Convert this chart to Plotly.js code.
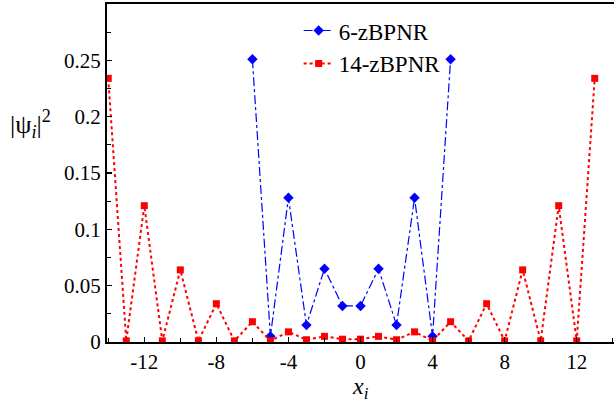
<!DOCTYPE html>
<html>
<head>
<meta charset="utf-8">
<script src="https://cdn.plot.ly/plotly-3.0.1.min.js"></script>
<style>html,body{margin:0;padding:0;background:#fff;}#chart{width:614px;height:402px;}</style>
</head>
<body>
<div id="chart"></div>
<script>
// Data
const x6 = [-6, -5, -4, -3, -2, -1, 0, 1, 2, 3, 4, 5];
const y6 = [0.251, 0.005, 0.128, 0.015, 0.065, 0.032, 0.032, 0.065, 0.015, 0.128, 0.005, 0.251];
const x14 = [-14, -13, -12, -11, -10, -9, -8, -7, -6, -5, -4, -3, -2, -1, 0, 1, 2, 3, 4, 5, 6, 7, 8, 9, 10, 11, 12, 13];
const y14 = [0.234, 0.001, 0.121, 0.001, 0.064, 0.001, 0.034, 0.001, 0.018, 0.001, 0.009, 0.002, 0.005, 0.0025,
             0.0025, 0.005, 0.002, 0.009, 0.001, 0.018, 0.001, 0.034, 0.001, 0.064, 0.001, 0.121, 0.001, 0.234];
const xTickVals = [-12, -8, -4, 0, 4, 8, 12];
const xTickText = ["-12", "-8", "-4", "0", "4", "8", "12"];
const yTickVals = [0, 0.05, 0.1, 0.15, 0.2, 0.25];
const yTickText = ["0", "0.05", "0.1", "0.15", "0.2", "0.25"];
const seriesNames = ["6-zBPNR", "14-zBPNR"];

const font = "Liberation Serif";

const traces = [
  {
    x: x6, y: y6, name: seriesNames[0], type: "scatter", mode: "lines+markers",
    line: {color: "#0000ff", width: 1.2, dash: "dashdot"},
    marker: {symbol: "diamond", size: 8, color: "#0000ff"}
  },
  {
    x: x14, y: y14, name: seriesNames[1], type: "scatter", mode: "lines+markers",
    line: {color: "#ff0000", width: 2, dash: "dot"},
    marker: {symbol: "square", size: 7, color: "#ff0000"}
  }
];

const layout = {
  width: 614, height: 402,
  margin: {l: 107, r: 0, t: 4, b: 60},
  paper_bgcolor: "#fff", plot_bgcolor: "#fff",
  font: {family: font, color: "#000", size: 21},
  showlegend: true,
  legend: {
    x: 0.378, y: 0.985, xanchor: "left", yanchor: "top",
    bgcolor: "rgba(0,0,0,0)", borderwidth: 0,
    font: {family: font, size: 23, color: "#000"},
    tracegroupgap: 0, itemwidth: 30
  },
  xaxis: {
    range: [-14.07, 14.07],
    tickvals: xTickVals, ticktext: xTickText,
    ticks: "inside", ticklen: 5, tickwidth: 1.2, tickcolor: "#000",
    minor: {dtick: 2, tick0: 0, ticks: "inside", ticklen: 4, tickwidth: 1, tickcolor: "#000"},
    showline: true, linecolor: "#000", linewidth: 2, mirror: true,
    showgrid: false, zeroline: false,
    tickfont: {family: font, size: 21, color: "#000"}
  },
  yaxis: {
    range: [0, 0.3],
    tickvals: yTickVals, ticktext: yTickText,
    ticks: "inside", ticklen: 5, tickwidth: 1.2, tickcolor: "#000",
    minor: {dtick: 0.025, tick0: 0, ticks: "inside", ticklen: 4, tickwidth: 1, tickcolor: "#000"},
    showline: true, linecolor: "#000", linewidth: 2,
    showgrid: false, zeroline: false,
    tickfont: {family: font, size: 21, color: "#000"}
  },
  annotations: [
    {
      text: "<i>x<sub><span style='font-size:17px'>i</span></sub></i>",
      xref: "paper", yref: "paper", x: 0.5, y: -0.086,
      xanchor: "center", yanchor: "top", showarrow: false,
      font: {family: font, size: 24, color: "#000"}
    },
    {
      text: "|ψ<sub><i>i</i></sub>|<sup>2</sup>",
      xref: "paper", yref: "paper", x: -0.195, y: 0.645,
      xanchor: "left", yanchor: "middle", showarrow: false,
      font: {family: font, size: 26, color: "#000"}
    }
  ]
};

Plotly.newPlot("chart", traces, layout, {displayModeBar: false, staticPlot: true});
</script>
</body>
</html>
